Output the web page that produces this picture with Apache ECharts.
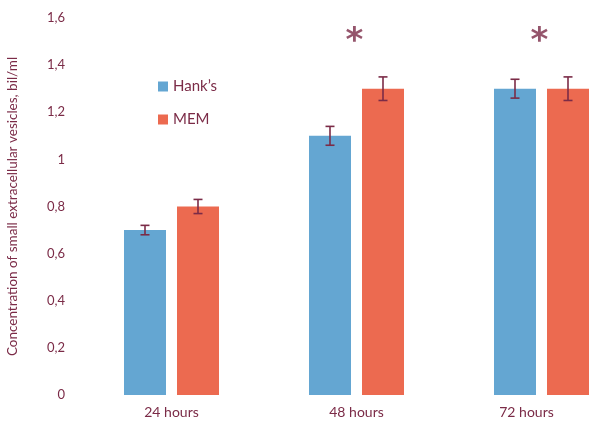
<!DOCTYPE html>
<html>
<head>
<meta charset="utf-8">
<script src="https://cdn.jsdelivr.net/npm/echarts@6/dist/echarts.min.js"></script>
<style>
  html, body { margin: 0; padding: 0; background: #ffffff; }
  #chart { width: 595px; height: 421px; }
</style>
</head>
<body>
<div id="chart"></div>
<script>
// Time points and measured concentrations (bil/ml)
const categories = ['24 hours', '48 hours', '72 hours'];
const hanks = [0.70, 1.10, 1.30];
const mem = [0.80, 1.30, 1.30];
const hanksErr = [0.02, 0.04, 0.04];
const memErr = [0.03, 0.05, 0.05];
// Significance markers (* above a time point), placed at a value level
const markers = ['', '*', '*'];
const markerLevel = 1.53;

const maroon = '#7b2b47';
const blue = '#64a6d2';
const orange = '#ec6a50';
const fontFamily = 'Lato, "Open Sans", sans-serif';

const BAR_W = 42;
const BAR_GAP_PX = 11;
const HALF_SHIFT = (BAR_W + BAR_GAP_PX) / 2;

function errorBarSeries(values, errors, shift) {
  return {
    type: 'custom',
    silent: true,
    z: 5,
    clip: false,
    data: values.map((v, i) => [i, v - errors[i], v + errors[i]]),
    renderItem: function (params, api) {
      const lo = api.coord([api.value(0), api.value(1)]);
      const hi = api.coord([api.value(0), api.value(2)]);
      const x = lo[0] + shift;
      const cap = 4.5;
      const style = { stroke: maroon, lineWidth: 1.6 };
      return {
        type: 'group',
        children: [
          { type: 'line', shape: { x1: x, y1: hi[1], x2: x, y2: lo[1] }, style: style },
          { type: 'line', shape: { x1: x - cap, y1: hi[1], x2: x + cap, y2: hi[1] }, style: style },
          { type: 'line', shape: { x1: x - cap, y1: lo[1], x2: x + cap, y2: lo[1] }, style: style }
        ]
      };
    }
  };
}

const chart = echarts.init(document.getElementById('chart'));
chart.setOption({
  backgroundColor: '#ffffff',
  animation: false,
  textStyle: { fontFamily: fontFamily },
  // the plot area runs past the right edge of the canvas
  grid: { left: 79, top: 18, width: 555, bottom: 26, containLabel: false, outerBoundsMode: 'none' },
  legend: {
    orient: 'vertical',
    left: 153,
    top: 74,
    itemWidth: 10,
    itemHeight: 10,
    itemGap: 18,
    icon: 'rect',
    textStyle: { color: maroon, fontSize: 15, fontFamily: fontFamily },
    data: ['Hank’s', 'MEM']
  },
  xAxis: {
    type: 'category',
    data: categories,
    axisLine: { show: false },
    axisTick: { show: false },
    axisLabel: {
      color: maroon,
      fontSize: 14,
      margin: 10,
      // keep the last label inside the canvas
      formatter: (v, i) => (i === categories.length - 1 ? '{edge|' + v + '}' : v),
      rich: { edge: { color: maroon, fontSize: 14, padding: [0, 30, 0, 0] } }
    }
  },
  yAxis: {
    type: 'value',
    min: 0,
    max: 1.6,
    interval: 0.2,
    name: 'Concentration of small extracellular vesicles, bil/ml',
    nameLocation: 'middle',
    nameRotate: 90,
    nameGap: 59,
    nameTextStyle: { color: maroon, fontSize: 13.5 },
    axisLine: { show: false },
    axisTick: { show: false },
    splitLine: { show: false },
    axisLabel: {
      color: maroon,
      fontSize: 13,
      margin: 14,
      formatter: v => String(+v.toFixed(1)).replace('.', ',')
    }
  },
  series: [
    {
      name: 'Hank’s',
      type: 'bar',
      data: hanks,
      barWidth: BAR_W,
      barGap: (BAR_GAP_PX / BAR_W * 100).toFixed(1) + '%',
      itemStyle: { color: blue }
    },
    {
      name: 'MEM',
      type: 'bar',
      data: mem,
      barWidth: BAR_W,
      itemStyle: { color: orange }
    },
    errorBarSeries(hanks, hanksErr, -HALF_SHIFT),
    errorBarSeries(mem, memErr, HALF_SHIFT),
    {
      type: 'scatter',
      silent: true,
      symbolSize: 2,
      z: 6,
      itemStyle: { color: 'transparent' },
      data: markers.map((m, i) => (m ? [i, markerLevel] : null)).filter(Boolean),
      label: {
        show: true,
        position: 'inside',
        offset: [-2, 8],
        formatter: p => markers[p.value[0]],
        color: maroon,
        fontSize: 34,
        fontWeight: 'bold',
        fontFamily: 'DejaVu Sans'
      }
    }
  ]
});
</script>
</body>
</html>
